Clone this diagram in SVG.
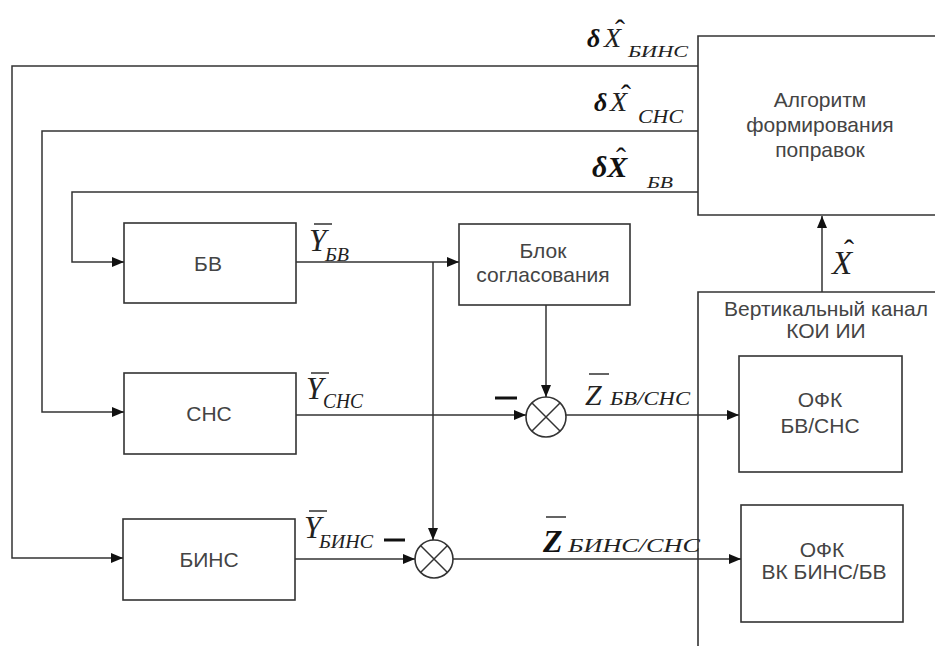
<svg xmlns="http://www.w3.org/2000/svg" width="935" height="646" viewBox="0 0 935 646">
<defs>
<marker id="ah" markerWidth="12" markerHeight="10" refX="12" refY="5" orient="auto" markerUnits="userSpaceOnUse">
<path d="M0,0 L12,5 L0,10 Z" fill="#111"/>
</marker>
<style>
.box{fill:#fff;stroke:#333;stroke-width:1.6}
.open{fill:none;stroke:#333;stroke-width:1.6}
.ln{fill:none;stroke:#333;stroke-width:1.5}
.arr{fill:none;stroke:#333;stroke-width:1.5;marker-end:url(#ah)}
.lbl{font-family:"Liberation Sans",Arial,sans-serif;font-size:21px;fill:#444;text-anchor:middle}
.m{font-family:"Liberation Serif","Times New Roman",serif;font-style:italic;fill:#222}
.mb{font-family:"Liberation Serif","Times New Roman",serif;font-style:italic;font-weight:bold;fill:#111}
.hat{font-family:"Liberation Serif","Times New Roman",serif;fill:#111;font-size:30px}
.bar{stroke:#222;stroke-width:1.4}
.minus{stroke:#111;stroke-width:3}
</style>
</defs>
<rect width="935" height="646" fill="#fff"/>

<g id="algo">
<path class="open" d="M940,36 H698 V215 H940"/>
<text class="lbl" x="820" y="107">Алгоритм</text>
<text class="lbl" x="820" y="132">формирования</text>
<text class="lbl" x="820" y="157">поправок</text>
</g>

<g id="vk">
<path class="open" d="M940,292 H698 V650"/>
<text class="lbl" x="826" y="316">Вертикальный канал</text>
<text class="lbl" x="826" y="338">КОИ ИИ</text>
</g>

<g id="bv">
<rect class="box" x="124" y="223" width="172" height="80"/>
<text class="lbl" x="208" y="271">БВ</text>
</g>

<g id="sns">
<rect class="box" x="124" y="373" width="172" height="81"/>
<text class="lbl" x="209" y="421">СНС</text>
</g>

<g id="bins">
<rect class="box" x="123" y="519" width="172" height="81"/>
<text class="lbl" x="209" y="567">БИНС</text>
</g>

<g id="bs">
<rect class="box" x="459" y="224" width="171" height="81"/>
<text class="lbl" x="543" y="258">Блок</text>
<text class="lbl" x="543" y="282">согласования</text>
</g>

<g id="sum1">
<circle class="box" cx="546" cy="417" r="20"/>
<path class="ln" d="M532,403 L560,431 M560,403 L532,431"/>
</g>

<g id="sum2">
<circle class="box" cx="434" cy="559" r="19"/>
<path class="ln" d="M420.5,545.5 L447.5,572.5 M447.5,545.5 L420.5,572.5"/>
</g>

<g id="ofk1">
<rect class="box" x="739" y="356" width="163" height="116"/>
<text class="lbl" x="820" y="407">ОФК</text>
<text class="lbl" x="820" y="433">БВ/СНС</text>
</g>

<g id="ofk2">
<rect class="box" x="741" y="505" width="162" height="117"/>
<text class="lbl" x="822" y="557">ОФК</text>
<text class="lbl" x="824" y="579">ВК БИНС/БВ</text>
</g>

<g id="connectors">
<polyline class="arr" points="698,66 12,66 12,558 123,558"/>
<polyline class="arr" points="698,131 42,131 42,412 124,412"/>
<polyline class="arr" points="698,192 72,192 72,262 124,262"/>
<polyline class="arr" points="296,262 459,262"/>
<polyline class="arr" points="433,262 433,540"/>
<polyline class="arr" points="546,305 546,397"/>
<polyline class="arr" points="296,415 526,415"/>
<polyline class="arr" points="295,559 415,559"/>
<polyline class="arr" points="566,415 739,415"/>
<polyline class="arr" points="453,559 741,559"/>
<polyline class="arr" points="822,292 822,216"/>
</g>

<g id="labels">
<!-- dX BINS -->
<text class="mb" x="587" y="47" font-size="26">δ</text>
<text class="m" x="604" y="47" font-size="28">X</text>
<text class="hat" x="615" y="40">ˆ</text>
<text class="m" x="628" y="57" font-size="17" textLength="60" lengthAdjust="spacingAndGlyphs">БИНС</text>
<!-- dX SNS -->
<text class="mb" x="594" y="111" font-size="26">δ</text>
<text class="m" x="610" y="111" font-size="28">X</text>
<text class="hat" x="621" y="105">ˆ</text>
<text class="m" x="638" y="123" font-size="18" textLength="45" lengthAdjust="spacingAndGlyphs">СНС</text>
<!-- dX BV -->
<text class="mb" x="592" y="177" font-size="30">δX</text>
<text class="hat" x="616" y="168">ˆ</text>
<text class="m" x="647" y="188" font-size="17" textLength="26" lengthAdjust="spacingAndGlyphs">БВ</text>
<!-- Y BV -->
<text class="m" x="309" y="251" font-size="31">Y</text>
<line class="bar" x1="314" y1="224" x2="332" y2="224"/>
<text class="m" x="325" y="261" font-size="18" textLength="24" lengthAdjust="spacingAndGlyphs">БВ</text>
<!-- Y SNS -->
<text class="m" x="306" y="399" font-size="31">Y</text>
<line class="bar" x1="311" y1="373" x2="329" y2="373"/>
<text class="m" x="323" y="408" font-size="20" textLength="40" lengthAdjust="spacingAndGlyphs">СНС</text>
<!-- Y BINS -->
<text class="m" x="304" y="538" font-size="31">Y</text>
<line class="bar" x1="309" y1="511" x2="327" y2="511"/>
<text class="m" x="319" y="548" font-size="19" textLength="54" lengthAdjust="spacingAndGlyphs">БИНС</text>
<!-- minus signs -->
<line class="minus" x1="495" y1="398" x2="517" y2="398"/>
<line class="minus" x1="384" y1="540" x2="405" y2="540"/>
<!-- Z BV/SNS -->
<text class="m" x="585" y="405" font-size="30">Z</text>
<line class="bar" x1="589" y1="374" x2="609" y2="374"/>
<text class="m" x="610" y="405" font-size="18" textLength="80" lengthAdjust="spacingAndGlyphs">БВ/СНС</text>
<!-- Z BINS/SNS -->
<text class="mb" x="543" y="552" font-size="32">Z</text>
<line class="bar" x1="546" y1="517" x2="566" y2="517" stroke-width="2"/>
<text class="m" x="568" y="552" font-size="18" textLength="132" lengthAdjust="spacingAndGlyphs">БИНС/СНС</text>
<!-- X hat -->
<text class="m" x="832" y="274" font-size="33">X</text>
<text class="hat" x="844" y="260" font-size="32">ˆ</text>
</g>
</svg>
